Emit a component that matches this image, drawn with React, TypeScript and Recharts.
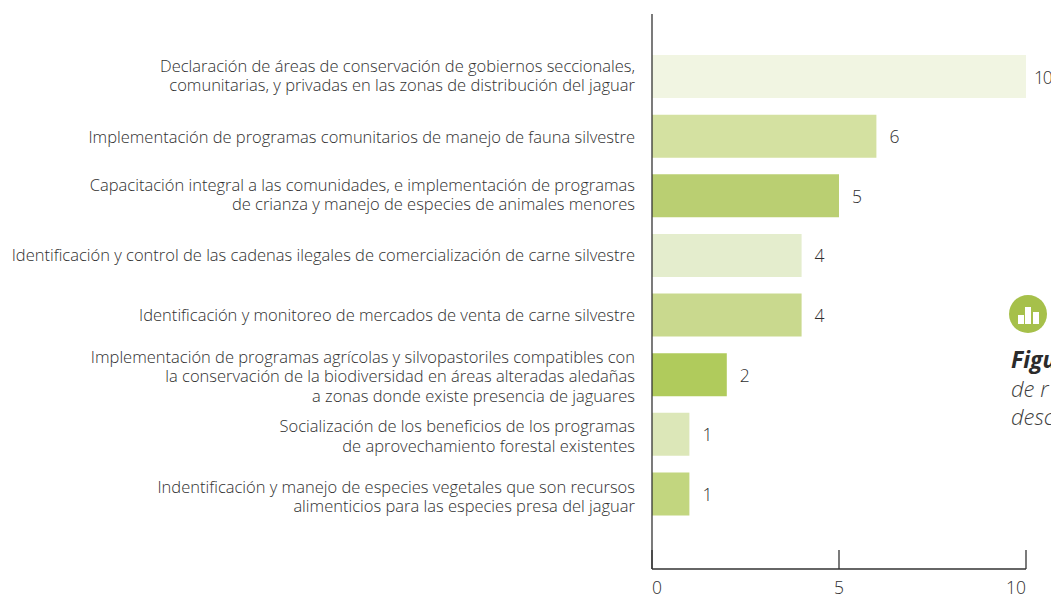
import { BarChart, Bar, XAxis, YAxis, Cell, LabelList } from "recharts";

const categories = [
  "Declaración de áreas de conservación de gobiernos seccionales,\ncomunitarias, y privadas en las zonas de distribución del jaguar",
  "Implementación de programas comunitarios de manejo de fauna silvestre",
  "Capacitación integral a las comunidades, e implementación de programas\nde crianza y manejo de especies de animales menores",
  "Identificación y control de las cadenas ilegales de comercialización de carne silvestre",
  "Identificación y monitoreo de mercados de venta de carne silvestre",
  "Implementación de programas agrícolas y silvopastoriles compatibles con\nla conservación de la biodiversidad en áreas alteradas aledañas\na zonas donde existe presencia de jaguares",
  "Socialización de los beneficios de los programas\nde aprovechamiento forestal existentes",
  "Indentificación y manejo de especies vegetales que son recursos\nalimenticios para las especies presa del jaguar",
];
const values = [10, 6, 5, 4, 4, 2, 1, 1];
const barColors = ["#F1F5E2", "#D4E1A1", "#BACF72", "#E4EDCD", "#C9D98E", "#B0CB5C", "#DCE7B8", "#C2D67F"];
const xTicks = [0, 5, 10];
const captionLines = ["de r", "desc"];
// the labels were set by hand in the original, they sit a bit off the bar centres
const tickNudge = [-1, 1, -1, 0, 0, 2, 2, 3];

const data = categories.map((name, i) => ({ name, value: values[i] }));

const FONT = "'Open Sans', sans-serif";
const INK = "#2f2f2f";

const CategoryTick = ({ x, y, payload, index }: any) => {
  const lines = String(payload.value).split("\n");
  const lineHeight = 19.6;
  const startY = y - ((lines.length - 1) * lineHeight) / 2 + 5.5 + tickNudge[index];
  return (
    <text textAnchor="end" fontFamily={FONT} fontWeight={300} fontSize={16.5} fill={INK}>
      {lines.map((line, i) => (
        <tspan key={i} x={x} y={startY + i * lineHeight}>
          {line}
        </tspan>
      ))}
    </text>
  );
};

const ValueTick = ({ x, y, payload }: any) => {
  const anchor = payload.value === 0 ? "start" : payload.value === 10 ? "end" : "middle";
  return (
    <g>
      <line x1={x} x2={x} y1={y - 19} y2={y} stroke="#333" strokeWidth={1.3} />
      <text x={x} y={y + 25} textAnchor={anchor} fontFamily={FONT} fontWeight={300} fontSize={17.5} fill={INK}>
        {payload.value}
      </text>
    </g>
  );
};

const ValueLabel = ({ x, y, width, height, value }: any) => (
  <text
    x={x + width + (value >= 10 ? 8 : 13)}
    y={y + height / 2 + 7}
    fontFamily={FONT}
    fontWeight={300}
    fontSize={17.5}
    letterSpacing={value >= 10 ? -1.2 : 0}
    fill={INK}
  >
    {value}
  </text>
);

export default function App() {
  return (
    <div style={{ position: "absolute", left: 0, top: 0, width: 1051, height: 596, overflow: "hidden", background: "#fff" }}>
      <BarChart
        width={1051}
        height={596}
        data={data}
        layout="vertical"
        margin={{ top: 14, right: 25, bottom: 26, left: 0 }}
      >
        <XAxis
          type="number"
          domain={[0, 10]}
          ticks={xTicks}
          interval={0}
          height={1}
          tickSize={0}
          tickMargin={0}
          tick={<ValueTick />}
          stroke="#333"
          strokeWidth={1.3}
        />
        <YAxis
          type="category"
          dataKey="name"
          width={652}
          interval={0}
          tickLine={false}
          tickSize={0}
          tickMargin={17}
          padding={{ top: 33, bottom: 45 }}
          tick={<CategoryTick />}
          stroke="#333"
          strokeWidth={1.3}
        />
        <Bar dataKey="value" barSize={43} isAnimationActive={false}>
          {data.map((entry, i) => (
            <Cell key={entry.name} fill={barColors[i]} />
          ))}
          <LabelList dataKey="value" content={<ValueLabel />} />
        </Bar>
      </BarChart>
      <svg width={1051} height={596} style={{ position: "absolute", left: 0, top: 0, pointerEvents: "none" }}>
        <circle cx={1028} cy={314} r={19} fill="#A6C04A" />
        <rect x={1018} y={315} width={6} height={9} fill="#fff" />
        <rect x={1025} y={307} width={6} height={17} fill="#fff" />
        <rect x={1033} y={312} width={6} height={12} fill="#fff" />
        <text x={1011} y={368} fontFamily={FONT} fontStyle="italic" fontWeight={700} fontSize={23} fill="#2b2b2b">
          Figu
        </text>
        {captionLines.map((line, i) => (
          <text key={line} x={1011} y={397 + i * 28} fontFamily={FONT} fontStyle="italic" fontWeight={300} fontSize={22} fill="#3d3d3d">
            {line}
          </text>
        ))}
      </svg>
    </div>
  );
}
